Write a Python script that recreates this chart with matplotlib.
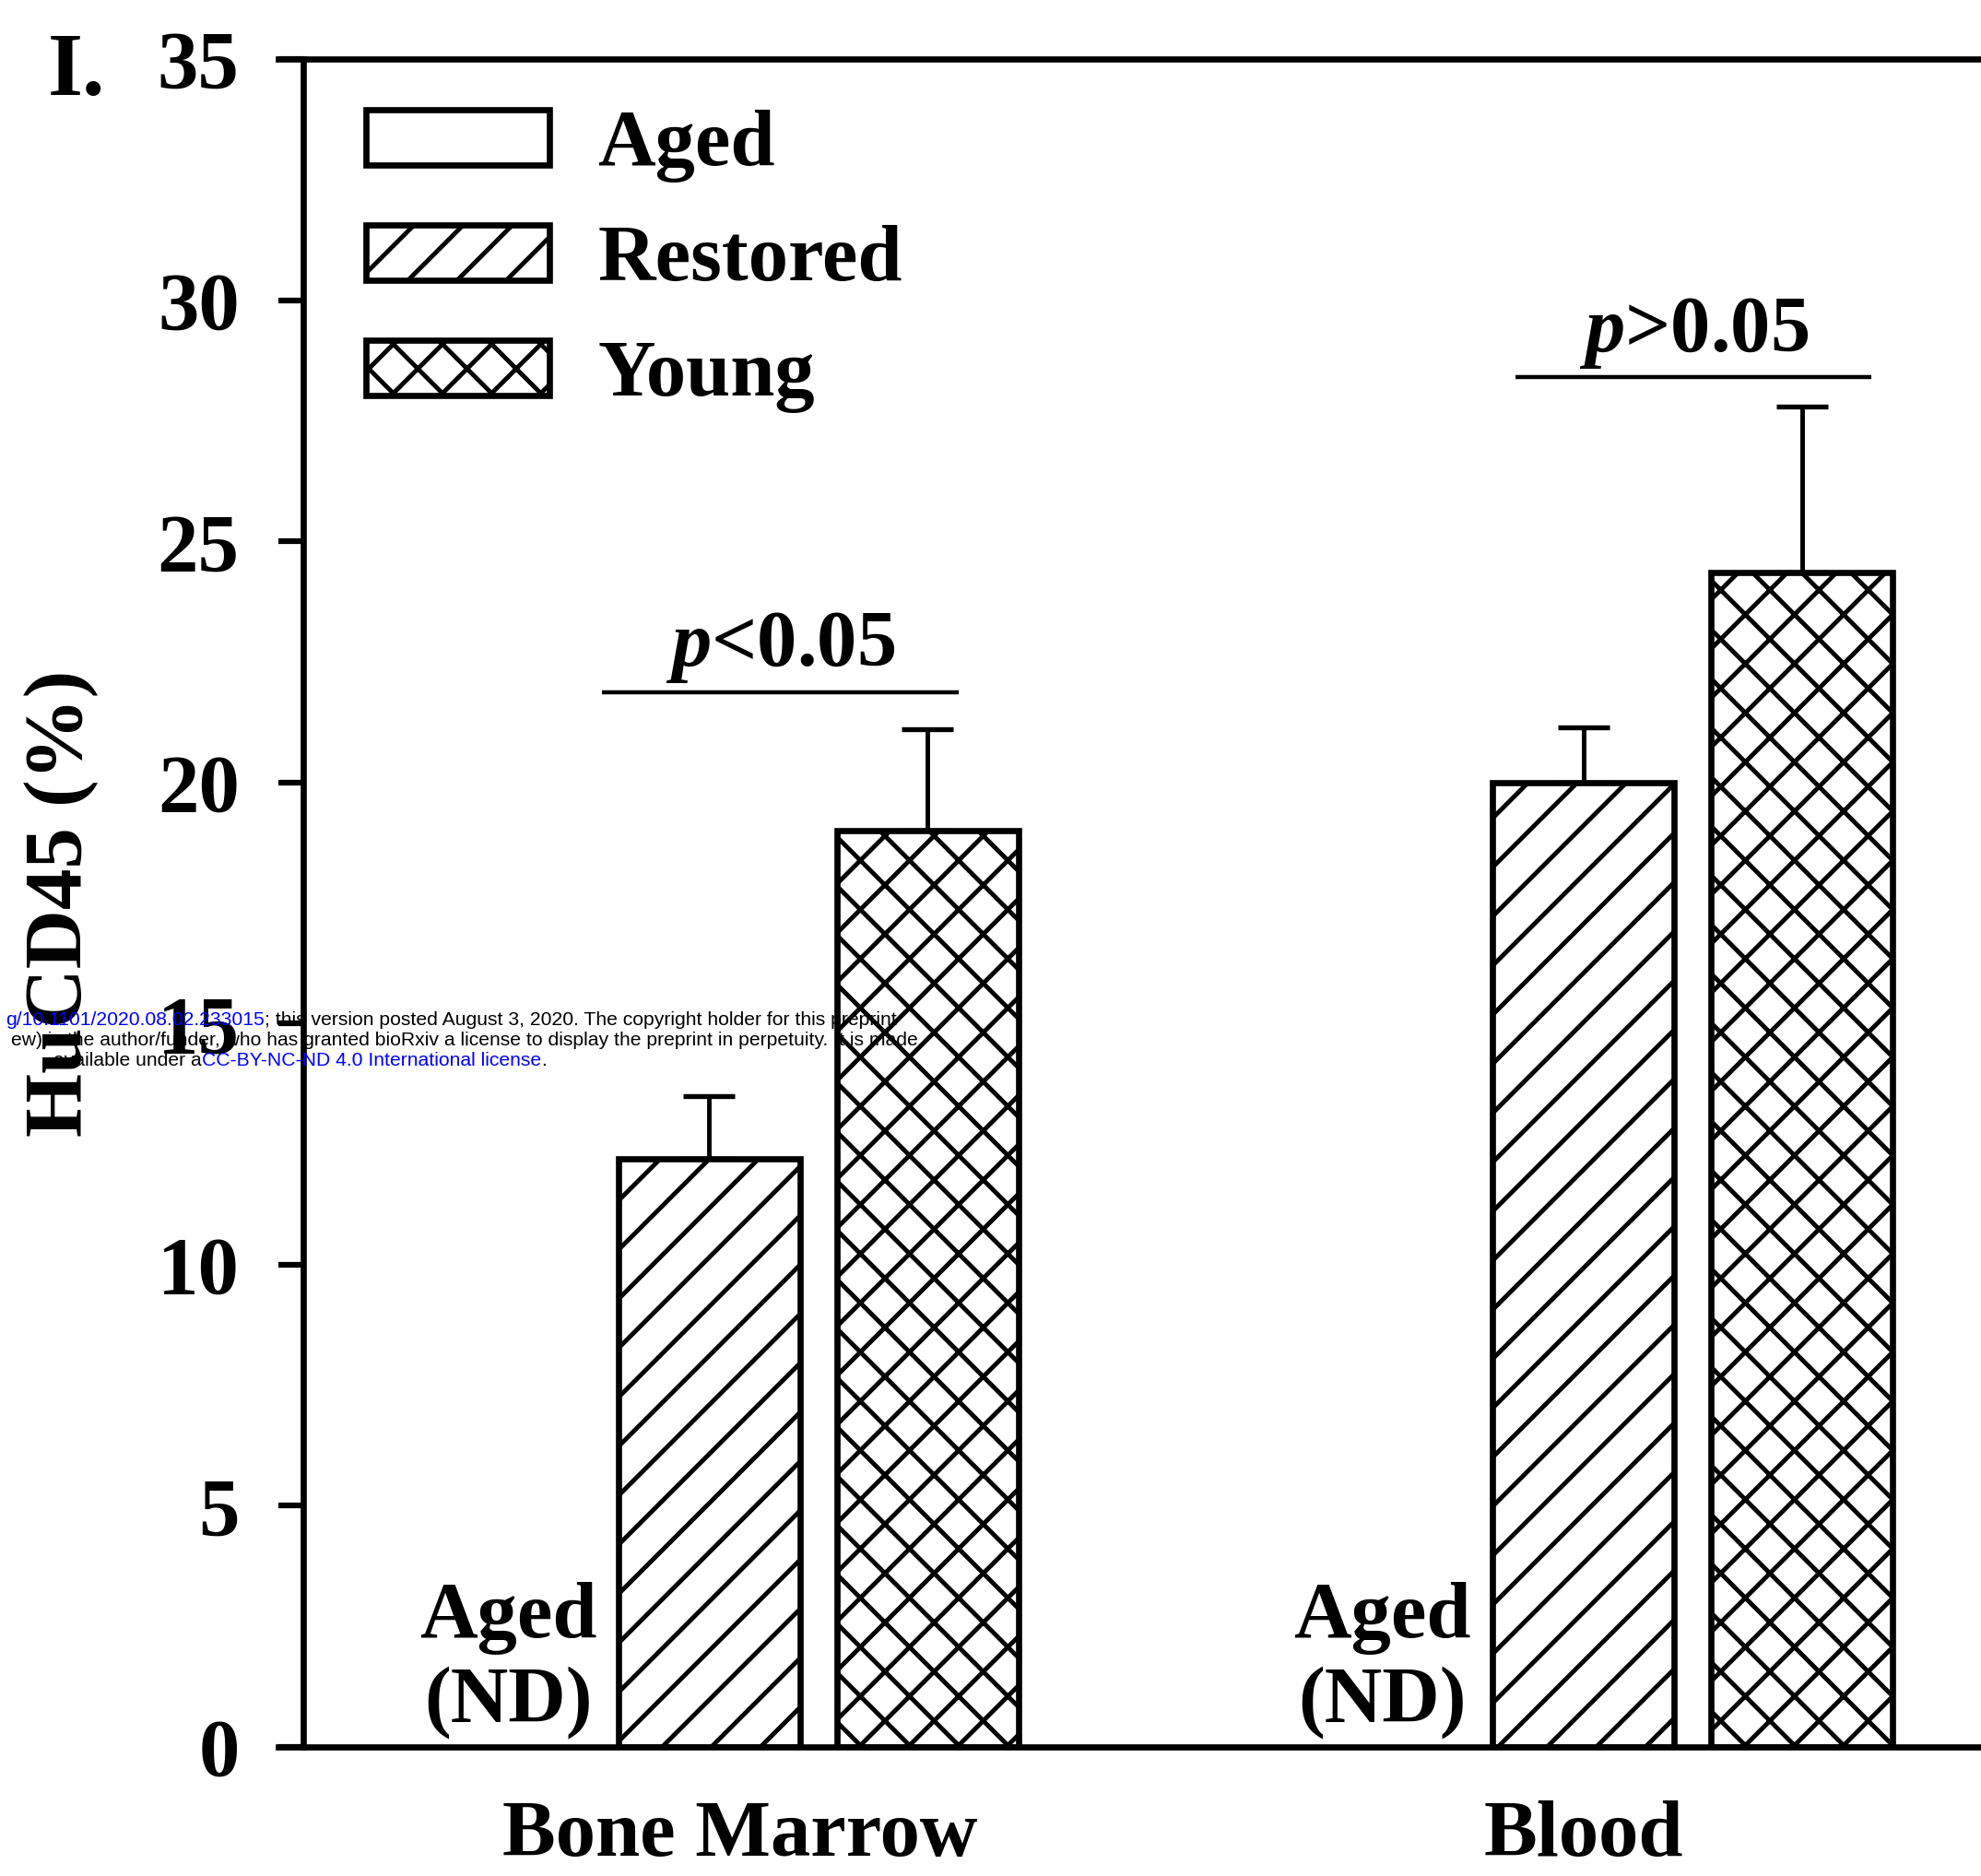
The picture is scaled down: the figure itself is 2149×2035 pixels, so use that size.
import matplotlib
matplotlib.use("Agg")
import numpy as np
from matplotlib import pyplot as plt
from matplotlib.patches import Patch

# data
groups = ["Bone Marrow", "Blood"]
series = ["Aged", "Restored", "Young"]
restored = [12.2, 20.0]
restored_err = [1.3, 1.15]
young = [19.0, 24.35]
young_err = [2.1, 3.45]
nd_label = "Aged\n(ND)"
sig_labels = ["$p$<0.05", "$p$>0.05"]
sig_y = [21.87, 28.4]
sig_span = [(-0.49, 1.14), (3.69, 5.32)]
y_ticks = [0, 5, 10, 15, 20, 25, 30, 35]

DPI = 320
W, H = 2149, 2035
SERIF = "Liberation Serif"

plt.rcParams["font.family"] = [SERIF, "DejaVu Serif"]
plt.rcParams["font.weight"] = "bold"
plt.rcParams["mathtext.fontset"] = "custom"
plt.rcParams["mathtext.it"] = "Liberation Serif:italic:bold"
plt.rcParams["mathtext.rm"] = "Liberation Serif:bold"
plt.rcParams["hatch.linewidth"] = 1.1
plt.rcParams["hatch.color"] = "black"

fig = plt.figure(figsize=(W / DPI, H / DPI), dpi=DPI)
fig.patch.set_facecolor("white")

ax_left, ax_bottom, ax_top = 329 / W, 1 - 1895 / H, 1 - 64 / H
ax = fig.add_axes([ax_left, ax_bottom, 1 - ax_left, ax_top - ax_bottom])

group_pos = np.array([0.0, 4.0])
bar_w = 0.83
offsets = {"Aged": -1.0, "Restored": 0.0, "Young": 1.0}

ax.bar(group_pos + offsets["Restored"], restored, width=bar_w, facecolor="white",
       edgecolor="black", linewidth=1.5, hatch="//", zorder=2)
ax.bar(group_pos + offsets["Young"], young, width=bar_w, facecolor="white",
       edgecolor="black", linewidth=1.5, hatch="xx", zorder=2)

for vals, errs, off in [(restored, restored_err, offsets["Restored"]),
                        (young, young_err, offsets["Young"])]:
    ax.errorbar(group_pos + off, vals, yerr=[np.zeros(len(vals)), errs], fmt="none",
                ecolor="black", elinewidth=1.1, capsize=6.4, capthick=1.2, zorder=1)

# "Aged (ND)" markers in the empty slot
for g in group_pos:
    ax.text(g + offsets["Aged"] + 0.08, 0.17, nd_label, ha="center", va="bottom",
            fontsize=19.5, fontweight="bold", linespacing=1.2)

# significance bars
for lab, y, (x0, x1) in zip(sig_labels, sig_y, sig_span):
    ax.plot([x0, x1], [y, y], color="black", lw=1.0, solid_capstyle="butt")
    ax.text((x0 + x1) / 2, y + 0.55, lab, ha="center", va="baseline",
            fontsize=19.5, fontweight="bold")

ax.set_xlim(-1.857, 5.82)
ax.set_ylim(0, 35)
ax.set_yticks(y_ticks)
ax.set_yticklabels([str(t) for t in y_ticks])
ax.set_xticks(group_pos + np.array([0.14, 0.0]))
ax.set_xticklabels(groups)
ax.tick_params(axis="y", direction="out", length=6.1, width=1.4, pad=9.5, labelsize=20)
ax.tick_params(axis="x", length=0, pad=13, labelsize=19.5)
for lab in ax.get_xticklabels() + ax.get_yticklabels():
    lab.set_fontweight("bold")

ax.spines["right"].set_visible(False)
for s in ["left", "top", "bottom"]:
    ax.spines[s].set_linewidth(1.5)
ax.spines["top"].set_bounds(-1.857 - 0.114, 5.82)
ax.spines["bottom"].set_bounds(-1.857 - 0.114, 5.82)

ax.set_ylabel("HuCD45 (%)", fontsize=20, fontweight="bold")
ax.yaxis.set_label_coords((107 - 329) / (W - 329), 0.5)

handles = [Patch(facecolor="white", edgecolor="black", linewidth=1.5, hatch=h)
           for h in ["", "//", "xx"]]
ax.legend(handles, series, loc="upper left", frameon=False,
          bbox_to_anchor=(397 / W, 1 - 119 / H), bbox_transform=fig.transFigure,
          borderpad=0, borderaxespad=0, handlelength=2.3, handleheight=0.68,
          handletextpad=0.6, labelspacing=0.53,
          prop={"family": SERIF, "weight": "bold", "size": 19.5})

fig.text(52 / W, 1 - 103 / H, "I.", fontsize=22, fontweight="bold", va="baseline")

# bioRxiv stamp, drawn over the chart
WM = dict(fontsize=4.78, fontweight="normal", family=["Liberation Sans", "DejaVu Sans"])
BLUE = "#0000ff"
l1 = fig.text(973 / W, 1 - 1107 / H, "; this version posted August 3, 2020. The copyright holder for this preprint",
              ha="right", va="center", color="black", zorder=10, **WM)
ax.annotate("g/10.1101/2020.08.02.233015", xy=(0, 0.5), xycoords=l1, ha="right", va="center",
            color=BLUE, annotation_clip=False, zorder=10, **WM)
fig.text(996 / W, 1 - 1129 / H, "ew) is the author/funder, who has granted bioRxiv a license to display the preprint in perpetuity. It is made",
         ha="right", va="center", color="black", zorder=10, **WM)
l3 = fig.text(58 / W, 1 - 1151 / H, "available under a", ha="left", va="center", color="black", zorder=10, **WM)
l3b = ax.annotate("CC-BY-NC-ND 4.0 International license", xy=(1, 0.5), xycoords=l3, ha="left",
                  va="center", color=BLUE, annotation_clip=False, zorder=10, **WM)
ax.annotate(".", xy=(1, 0.5), xycoords=l3b, ha="left", va="center", color="black",
            annotation_clip=False, zorder=10, **WM)

fig.savefig("out.png", dpi=DPI, facecolor="white")
